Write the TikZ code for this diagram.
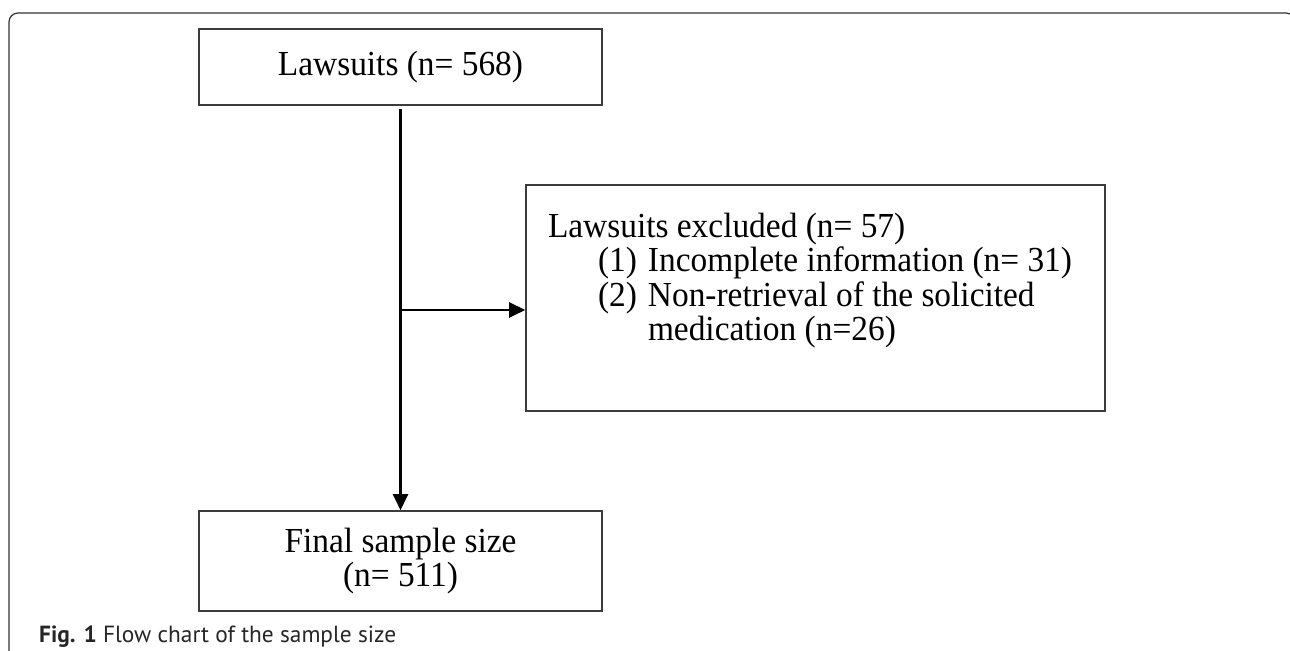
\documentclass[tikz,border=0pt]{standalone}
\usepackage{fontspec}
\setmainfont{Liberation Serif}[FakeStretch=0.95]
\newfontfamily\captionfont{PT Sans}
\usetikzlibrary{arrows.meta}

\definecolor{boxgray}{HTML}{3C3C3C}
\definecolor{framegray}{HTML}{333333}
\tikzset{
  flowbox/.style={draw=boxgray,line width=0.9pt,inner sep=0pt,font=\fontsize{20}{19.6}\selectfont},
  flowarrow/.style={draw=black,line width=1.3pt,-{Triangle[length=0.32cm,width=0.3cm]}}
}

\begin{document}
\begin{tikzpicture}
  % marges
  \useasboundingbox (0,0) rectangle (25.8,13.02);
  \clip (0,0) rectangle (25.8,13.02);
  % cadre
  \draw[framegray,line width=0.7pt,rounded corners=0.18cm] (0.18,-0.2) -- (0.18,12.76) -- (25.9,12.76) -- (25.9,-0.2);

  % boites
  \node[flowbox,minimum width=8.06cm,minimum height=1.52cm] (total) at (8.01,11.68) {Lawsuits (n= 568)};
  \node[flowbox,minimum width=8.06cm,minimum height=2.0cm,align=center] (final) at (8.01,1.80) {Final sample size\\(n= 511)};
  \node[flowbox] (excluded) at (16.31,7.06) {%
    \begin{minipage}[c][4.52cm][t]{11.58cm}
      \vspace*{0.56cm}
      \leftskip=0.44cm
      Lawsuits excluded (n= 57)\par
      \leftskip=2.44cm
      \leavevmode\llap{\makebox[1cm][l]{(1)}}Incomplete information (n= 31)\par
      \leavevmode\llap{\makebox[1cm][l]{(2)}}Non-retrieval of the solicited\\medication (n=26)\par
    \end{minipage}};

  % fleches
  \coordinate (split) at (8.01,6.82);
  \draw[flowarrow,shorten <=2pt] (total.south) -- (final.north);
  \draw[flowarrow] (split) -- (split -| excluded.west);

  % legende
  \node[anchor=base west,font=\captionfont\fontsize{13.3}{15}\selectfont,text=black!85] (caption) at (0.66,0.16) {\textbf{Fig. 1} Flow chart of the sample size};
\end{tikzpicture}
\end{document}
